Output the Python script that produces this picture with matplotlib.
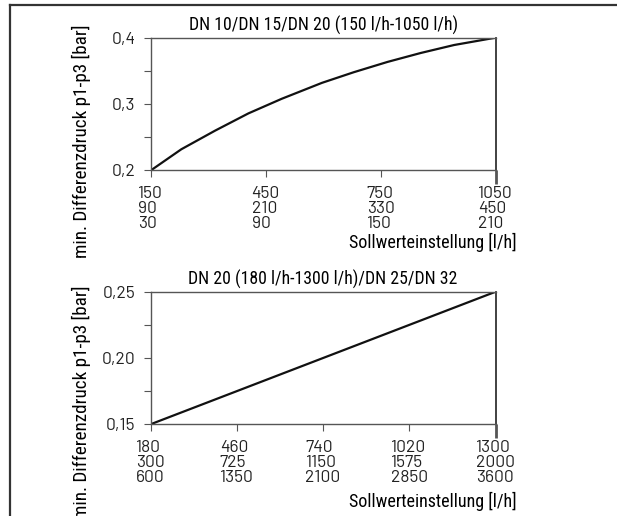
import matplotlib
matplotlib.use("Agg")
import matplotlib.pyplot as plt
from matplotlib.lines import Line2D
from matplotlib.ticker import MultipleLocator, FuncFormatter

# upper chart: DN 10/15/20
top_x = [150, 230, 318, 405, 492, 597, 680, 768, 855, 942, 1050]
top_y = [0.200, 0.232, 0.260, 0.286, 0.308, 0.332, 0.348, 0.3635, 0.377, 0.389, 0.400]
top_row1 = [150, 450, 750, 1050]
top_row2 = [90, 210, 330, 450]
top_row3 = [30, 90, 150, 210]

# lower chart: DN 20/25/32
bot_x = [180, 1300]
bot_y = [0.15, 0.25]
bot_row1 = [180, 460, 740, 1020, 1300]
bot_row2 = [300, 725, 1150, 1575, 2000]
bot_row3 = [600, 1350, 2100, 2850, 3600]

plt.rcParams['font.family'] = ['Roboto Condensed', 'DejaVu Sans']
TICK_FONT = ['Barlow', 'DejaVu Sans']

W, H = 617, 516
fig = plt.figure(figsize=(W / 100, H / 100), dpi=100)

# frame lines on the left and top
fig.add_artist(Line2D([10 / W, 10 / W], [0, 1 - 5 / H], color='#333333', lw=1.6))
fig.add_artist(Line2D([10 / W, 1], [1 - 5 / H, 1 - 5 / H], color='#333333', lw=1.6))


def comma(v, nd):
    return f"{v:.{nd}f}".replace('.', ',')


def setup(ax, xs, ys, rows, ylim, ystep, ynd, title, ylab_y, xlab_y):
    ax.plot(xs, ys, color='#111111', lw=1.6, solid_capstyle='round')
    ax.set_xlim(rows[0][0], rows[0][-1])
    ax.set_ylim(*ylim)
    ax.set_xticks(rows[0])
    ax.set_xticklabels(["\n".join(str(r[i]) for r in rows) for i in range(len(rows[0]))],
                       fontsize=12.5, linespacing=1.0, family=TICK_FONT,
                       color='#222222')
    for lab in ax.get_xticklabels():
        lab.set_multialignment('left')
    ax.yaxis.set_major_locator(MultipleLocator(ystep))
    ax.yaxis.set_minor_locator(MultipleLocator(ystep / 2))
    ax.yaxis.set_major_formatter(FuncFormatter(lambda v, p: comma(v, ynd)))
    for lab in ax.get_yticklabels():
        lab.set_family(TICK_FONT)
    ax.tick_params(axis='y', which='both', direction='out', length=5, width=0.8,
                   color='#555555', labelsize=12.5, labelcolor='#222222', pad=6)
    ax.tick_params(axis='x', direction='out', length=5, width=0.8,
                   color='#555555', pad=6)
    last = ax.xaxis.get_major_ticks()[-1]
    last.tick1line.set_markersize(10)
    last.tick1line.set_markeredgewidth(2)
    last.tick1line.set_color('#111111')
    for s in ['left', 'top', 'bottom']:
        ax.spines[s].set_color('#555555')
        ax.spines[s].set_linewidth(1.0)
    ax.spines['right'].set_color('#333333')
    ax.spines['right'].set_linewidth(1.3)
    ax.set_title(title, fontsize=12.8, pad=5)
    ax.set_ylabel("min. Differenzdruck p1-p3 [bar]", fontsize=13.8, va='center')
    ax.yaxis.set_label_coords(-0.200, ylab_y)
    ax.set_xlabel("Sollwerteinstellung [l/h]", fontsize=13.0, ha='right', va='top')
    ax.xaxis.set_label_coords(1.062, xlab_y)


ax1 = fig.add_axes([150.7 / W, 1 - 170.5 / H, 344.8 / W, 132.8 / H])
setup(ax1, top_x, top_y, [top_row1, top_row2, top_row3], (0.2, 0.4), 0.1, 1,
      "DN 10/DN 15/DN 20 (150 l/h-1050 l/h)", 0.222, -0.471)

ax2 = fig.add_axes([150.5 / W, 1 - 424.3 / H, 345.2 / W, 132.6 / H])
setup(ax2, bot_x, bot_y, [bot_row1, bot_row2, bot_row3], (0.15, 0.25), 0.05, 2,
      "DN 20 (180 l/h-1300 l/h)/DN 25/DN 32", 0.167, -0.508)

fig.savefig("out.png", dpi=100)
